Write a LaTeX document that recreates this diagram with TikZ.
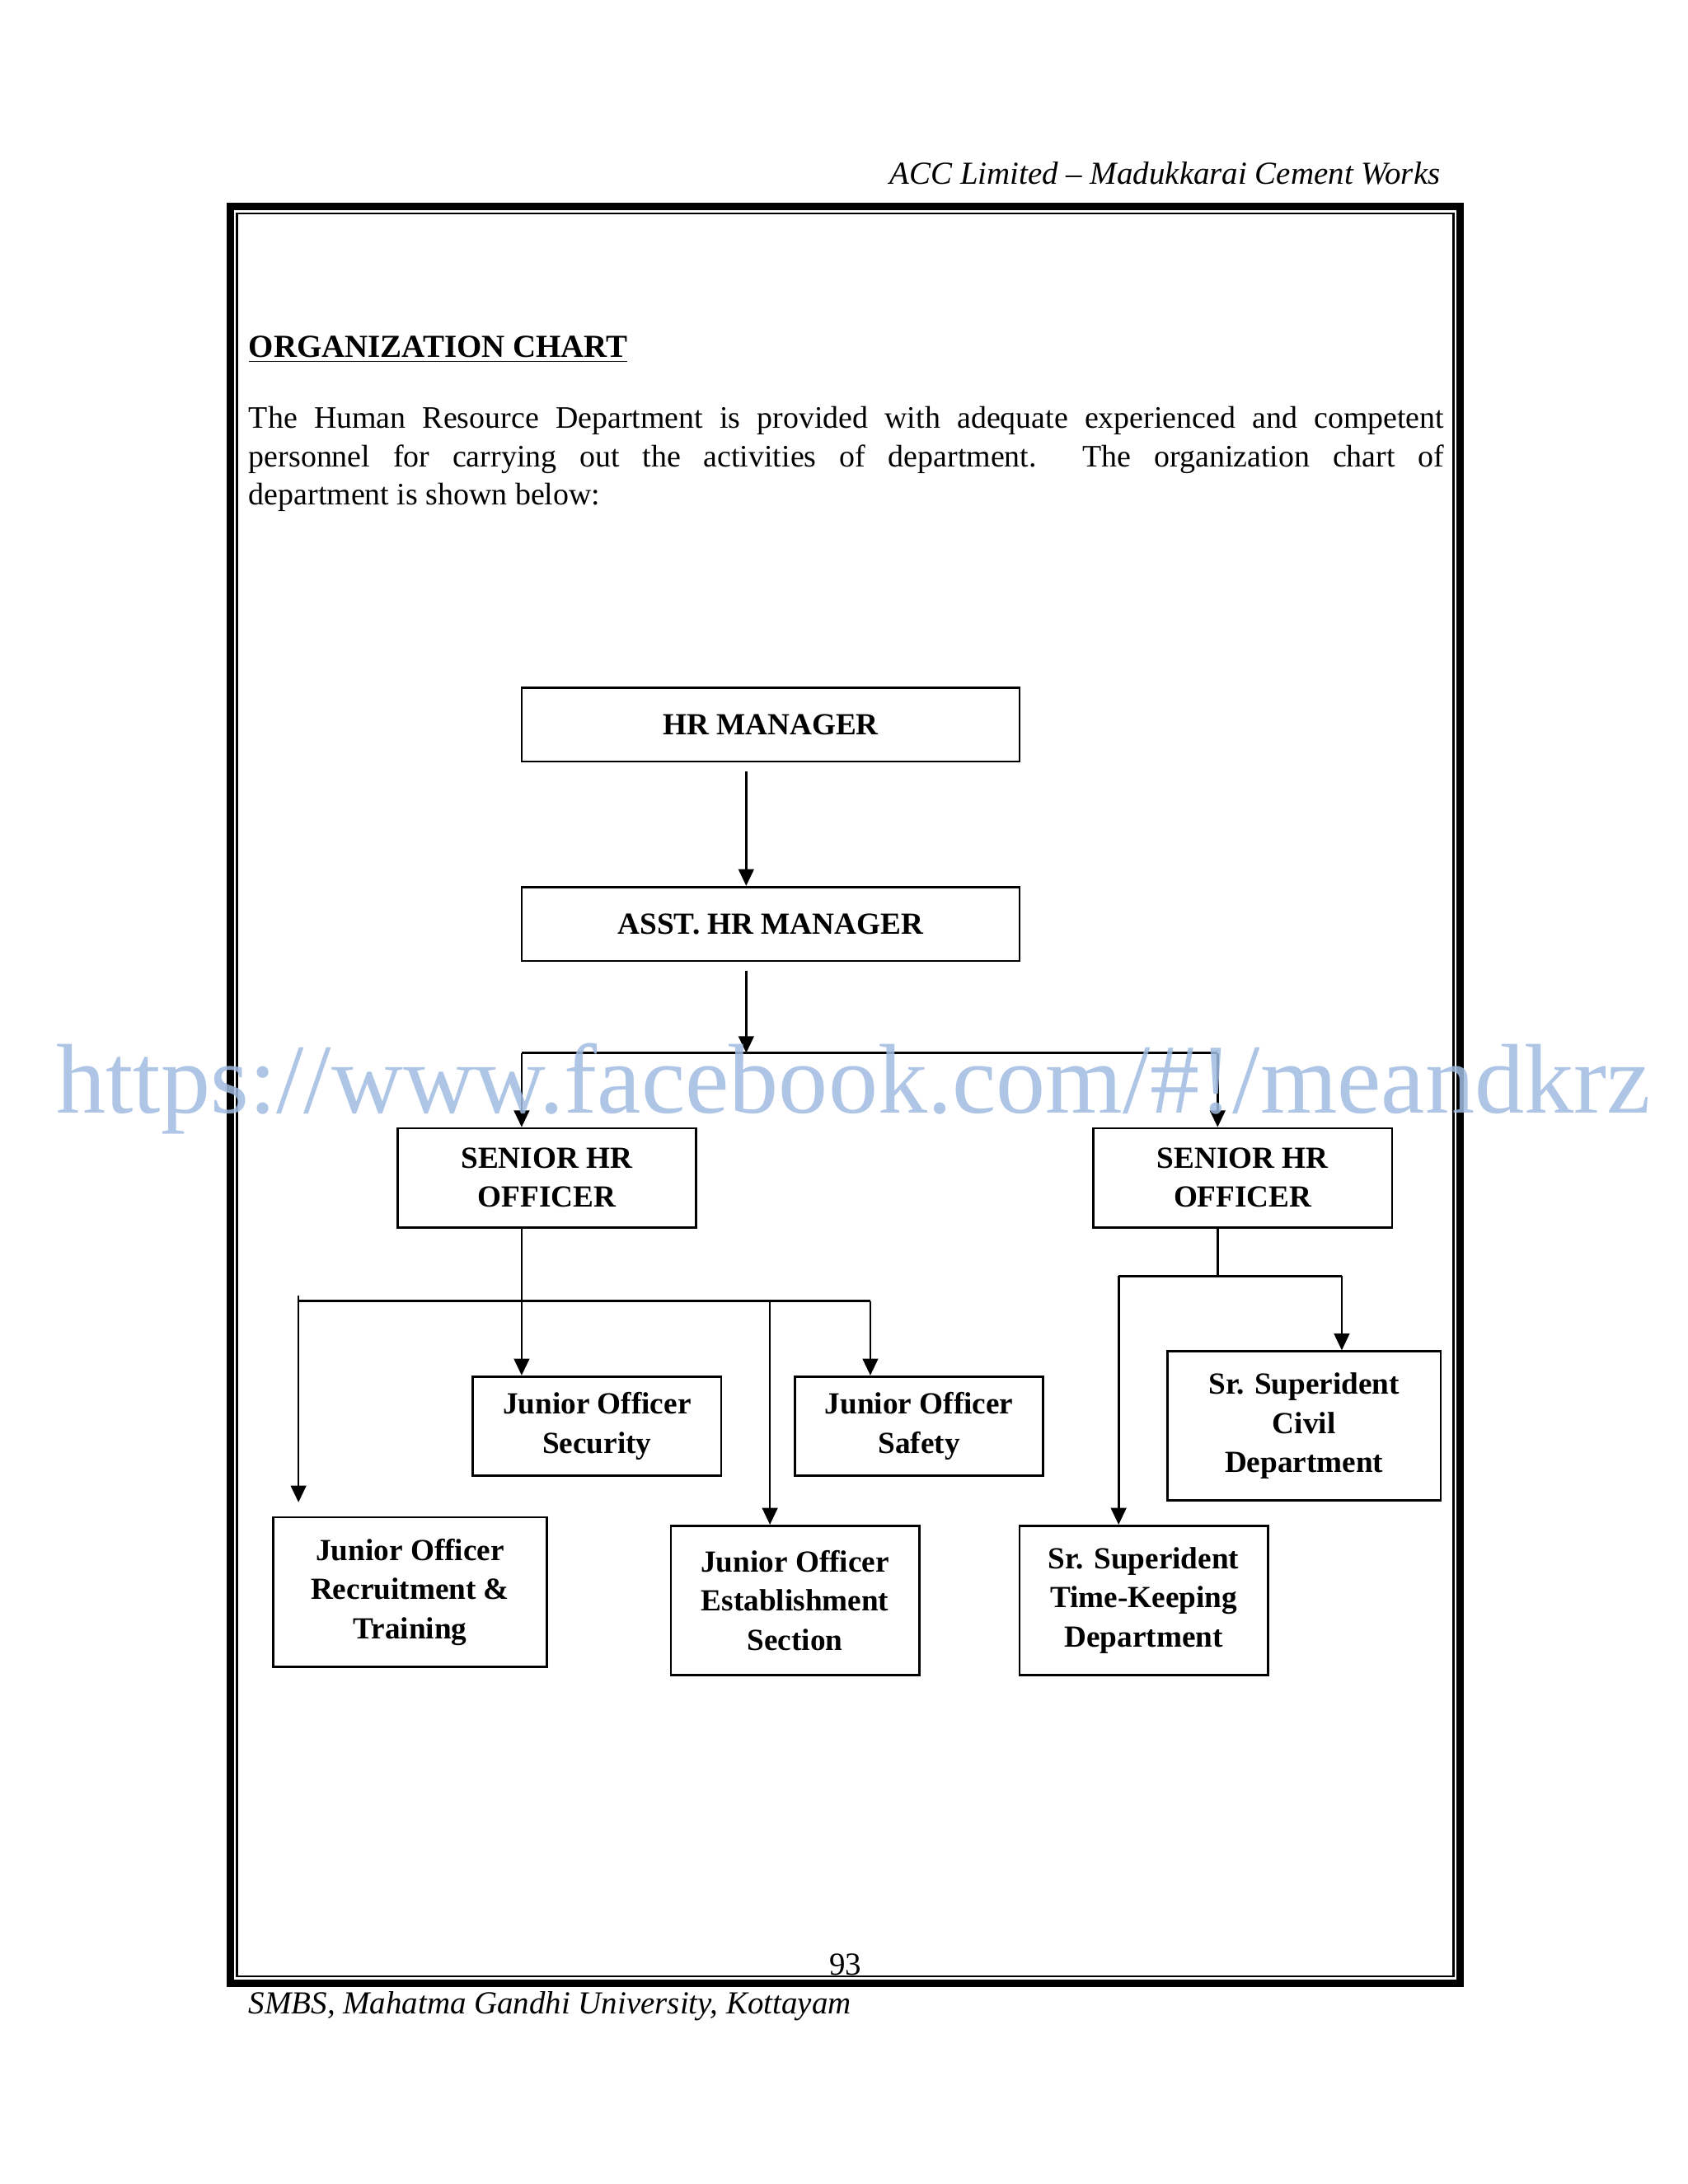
\documentclass[tikz,border=0pt]{standalone}
\usepackage{fontspec}
\setmainfont{Liberation Serif}
\usetikzlibrary{arrows.meta}
\definecolor{wmblue}{RGB}{160,188,226}
\tikzset{
  box/.style={draw,line width=0.8pt,align=center,font=\fontsize{11}{14}\selectfont\bfseries,inner sep=2pt},
  arr/.style={line width=0.8pt,-{Triangle[length=6pt,width=5.5pt]}},
  ln/.style={line width=0.8pt}
}
\begin{document}
\begin{tikzpicture}[x=0.5pt,y=-0.5pt]
\useasboundingbox[fill=white] (0,0) rectangle (1210,1566);
% frame
\draw[line width=2.6pt] (165,148) rectangle (1047,1422);
\draw[line width=0.8pt] (170,153) rectangle (1042,1417);
% header/footer
\node[anchor=base east,font=\fontsize{11.5}{14}\selectfont\itshape,inner sep=0] (hdr) at (1033,132) {ACC Limited – Madukkarai Cement Works};
\node[anchor=base west,font=\fontsize{11.5}{14}\selectfont\itshape,inner sep=0] (ftr) at (178,1444) {SMBS, Mahatma Gandhi University, Kottayam};
\node[anchor=base,font=\fontsize{11.5}{14}\selectfont,inner sep=0] (pg) at (606,1416) {93};
% title and text
\node[anchor=base west,font=\fontsize{11.5}{14}\selectfont\bfseries,inner sep=0] (ttl) at (178,256) {\underline{ORGANIZATION CHART}};
\node[anchor=north west,text width=428.5pt,align=justify,font=\fontsize{11.2}{13.8}\selectfont,inner sep=0] (par) at (178,291) {\hyphenpenalty=10000 The Human Resource Department is provided with adequate experienced and competent\linebreak personnel for carrying out the activities of department.\ \ The organization chart of\linebreak department is shown below:};
% boxes
\node[box,minimum width=178.5pt,minimum height=26.5pt] (hr) at (552.5,519.5) {HR MANAGER};
\node[box,minimum width=178.5pt,minimum height=26.5pt] (asst) at (552.5,662.5) {ASST. HR MANAGER};
\node[box,minimum width=107pt,minimum height=35.5pt] (sl) at (392,844.5) {SENIOR HR\\OFFICER};
\node[box,minimum width=107pt,minimum height=35.5pt] (sr) at (891,844.5) {SENIOR HR\\OFFICER};
\node[box,minimum width=89pt,minimum height=35.5pt] (sec) at (428,1022.5) {Junior Officer\\Security};
\node[box,minimum width=89pt,minimum height=35.5pt] (saf) at (659,1022.5) {Junior Officer\\Safety};
\node[box,minimum width=98pt,minimum height=53.5pt] (rec) at (294,1141.5) {Junior Officer\\Recruitment \&\\Training};
\node[box,minimum width=89pt,minimum height=53.5pt] (est) at (570,1147.5) {Junior Officer\\Establishment\\Section};
\node[box,minimum width=98pt,minimum height=53.5pt] (civ) at (935,1022.5) {Sr. Superident\\Civil\\Department};
\node[box,minimum width=89pt,minimum height=53.5pt] (tk) at (820,1147.5) {Sr. Superident\\Time-Keeping\\Department};
% coordinates
\coordinate (a1) at (535,553);
\coordinate (a2) at (535,696);
\coordinate (b1) at (374,755);
\coordinate (b2) at (873,755);
\coordinate (c0) at (374,933);
\coordinate (cl) at (214,929);
\coordinate (cr) at (624,933);
\coordinate (ce) at (552,933);
\coordinate (d0) at (873,915);
\coordinate (dl) at (802,915);
\coordinate (dr) at (962,915);
% connectors
\draw[arr] (a1) -- (a1 |- asst.north);
\draw[arr] (a2) -- (a2 |- b1);
\draw[ln] (b1) -- (b2);
\draw[arr] (b1) -- (b1 |- sl.north);
\draw[arr] (b2) -- (b2 |- sr.north);
\draw[arr] (b1 |- sl.south) -- (b1 |- sec.north);
\draw[ln] (cl) -- (cl |- c0) -- (cr);
\draw[arr] (cl) -- ([yshift=5pt]cl |- rec.north);
\draw[arr] (ce) -- (ce |- est.north);
\draw[arr] (cr) -- (cr |- saf.north);
\draw[ln] (sr.south -| d0) -- (d0);
\draw[ln] (dl) -- (dr);
\draw[arr] (dr) -- (dr |- civ.north);
\draw[arr] (dl) -- (dl |- tk.north);
% watermark
\node[anchor=base west,inner sep=0,text=wmblue,opacity=0.85,font=\fontsize{35.5}{36}\selectfont] (wm) at (40,798) {https://www.facebook.com/\#!/meandkrz};
\end{tikzpicture}
\end{document}
